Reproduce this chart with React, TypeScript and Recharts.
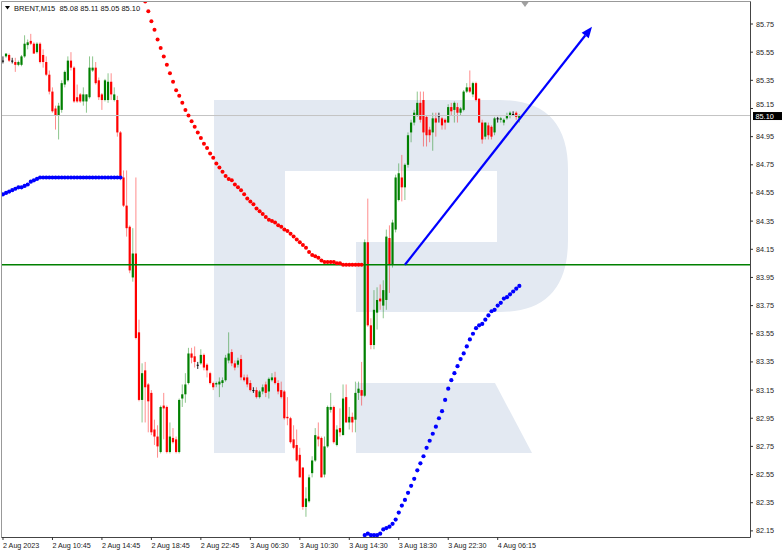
import React from 'react';
import { ComposedChart, Bar, Line, XAxis, YAxis, ReferenceLine } from 'recharts';

const symbolTitle = 'BRENT,M15';
const lastQuote = [85.08, 85.11, 85.05, 85.1];

// M15 candles, oldest first
const opens = [
  85.49, 85.52, 85.53, 85.49, 85.48, 85.46, 85.46, 85.52, 85.6, 85.63, 85.61, 85.55, 85.61, 85.53, 85.48, 85.39,
  85.27, 85.15, 85.1, 85.14, 85.32, 85.35, 85.49, 85.44, 85.23, 85.25, 85.2, 85.2, 85.23, 85.42, 85.44, 85.35,
  85.25, 85.21, 85.21, 85.34, 85.21, 85.21, 84.98, 84.66, 84.46, 84.31, 83.95, 84.12, 83.56, 83.08, 83.29, 83.19,
  83.13, 82.87, 82.82, 82.71, 83.04, 83.03, 82.71, 82.81, 82.8, 82.71, 83.09, 83.12, 83.2, 83.41, 83.39, 83.33,
  83.34, 83.4, 83.33, 83.27, 83.2, 83.19, 83.19, 83.2, 83.22, 83.36, 83.42, 83.34, 83.33, 83.37, 83.24, 83.24,
  83.2, 83.15, 83.15, 83.1, 83.14, 83.19, 83.14, 83.22, 83.24, 83.2, 83.15, 83.14, 82.96, 82.95, 82.8, 82.76,
  82.69, 82.6, 82.32, 82.36, 82.56, 82.65, 82.82, 82.81, 82.55, 82.75, 83.01, 83.03, 82.76, 82.88, 82.83, 83.1,
  82.92, 82.96, 82.94, 83.13, 83.15, 83.11, 84.2, 83.61, 83.47, 83.7, 83.8, 83.75, 83.79, 84.23, 84.04, 84.29,
  84.5, 84.66, 84.59, 84.75, 84.98, 85.05, 85.1, 85.19, 85.21, 85.09, 85.0, 84.98, 85.08, 85.1, 85.08, 85.07,
  85.05, 85.16, 85.14, 85.16, 85.12, 85.14, 85.27, 85.3, 85.25, 85.33, 85.22, 85.05, 84.95, 85.03, 85.02, 84.98,
  85.08, 85.07, 85.05, 85.08, 85.1, 85.11, 85.12, 85.08,
];
const highs = [
  85.52, 85.54, 85.54, 85.51, 85.51, 85.49, 85.53, 85.67, 85.64, 85.68, 85.62, 85.62, 85.62, 85.57, 85.52, 85.42,
  85.3, 85.17, 85.19, 85.35, 85.42, 85.52, 85.55, 85.45, 85.32, 85.26, 85.3, 85.25, 85.52, 85.52, 85.48, 85.37,
  85.26, 85.36, 85.4, 85.4, 85.3, 85.24, 84.99, 84.71, 84.71, 84.32, 84.3, 84.66, 83.65, 83.34, 83.35, 83.2,
  83.15, 82.94, 82.9, 83.04, 83.13, 83.04, 82.92, 82.88, 82.82, 83.09, 83.19, 83.27, 83.45, 83.45, 83.46, 83.35,
  83.44, 83.41, 83.34, 83.28, 83.21, 83.21, 83.24, 83.24, 83.4, 83.56, 83.44, 83.36, 83.38, 83.4, 83.26, 83.26,
  83.22, 83.17, 83.17, 83.15, 83.19, 83.21, 83.24, 83.27, 83.28, 83.22, 83.21, 83.15, 83.1, 82.96, 82.9, 82.87,
  82.74, 82.6, 82.46, 82.55, 82.68, 82.88, 82.92, 82.82, 82.82, 83.04, 83.13, 83.04, 82.9, 83.02, 83.19, 83.19,
  83.03, 82.99, 83.21, 83.21, 83.35, 84.22, 84.51, 83.66, 83.86, 83.88, 83.9, 83.93, 84.29, 84.32, 84.36, 84.68,
  84.76, 84.82, 84.76, 84.98, 85.07, 85.14, 85.27, 85.27, 85.27, 85.1, 85.02, 85.12, 85.12, 85.12, 85.09, 85.08,
  85.18, 85.19, 85.2, 85.19, 85.16, 85.28, 85.33, 85.42, 85.34, 85.34, 85.22, 85.07, 85.05, 85.05, 85.03, 85.09,
  85.09, 85.09, 85.08, 85.12, 85.13, 85.13, 85.13, 85.11,
];
const lows = [
  85.47, 85.51, 85.48, 85.47, 85.41, 85.45, 85.45, 85.51, 85.57, 85.6, 85.54, 85.54, 85.47, 85.44, 85.38, 85.25,
  85.12, 85.0, 84.93, 85.12, 85.3, 85.34, 85.42, 85.19, 85.19, 85.19, 85.17, 85.12, 85.22, 85.41, 85.32, 85.21,
  85.14, 85.2, 85.19, 85.21, 85.2, 84.95, 84.64, 84.45, 84.24, 83.98, 83.92, 83.51, 83.07, 82.92, 82.92, 82.85,
  82.83, 82.76, 82.67, 82.7, 82.8, 82.7, 82.7, 82.77, 82.7, 82.7, 83.03, 83.06, 83.19, 83.34, 83.31, 83.3,
  83.33, 83.29, 83.24, 83.19, 83.15, 83.17, 83.1, 83.17, 83.21, 83.34, 83.32, 83.29, 83.31, 83.22, 83.21, 83.17,
  83.14, 83.13, 83.09, 83.09, 83.12, 83.1, 83.09, 83.21, 83.19, 83.12, 83.09, 82.94, 82.9, 82.77, 82.73, 82.64,
  82.53, 82.3, 82.25, 82.35, 82.53, 82.64, 82.75, 82.53, 82.53, 82.74, 82.99, 82.77, 82.75, 82.82, 82.83, 82.92,
  82.87, 82.85, 82.85, 83.08, 83.04, 83.1, 83.6, 83.44, 83.44, 83.58, 83.72, 83.66, 83.72, 83.84, 84.02, 84.27,
  84.49, 84.49, 84.5, 84.73, 84.91, 85.03, 85.09, 85.05, 84.88, 84.88, 84.91, 84.85, 84.95, 85.05, 85.0, 85.0,
  85.05, 85.1, 85.05, 85.05, 85.1, 85.13, 85.26, 85.26, 85.23, 85.2, 85.05, 84.9, 84.93, 84.93, 84.93, 84.96,
  85.05, 85.05, 85.03, 85.07, 85.08, 85.1, 85.07, 85.05,
];
const closes = [
  85.49, 85.54, 85.49, 85.49, 85.46, 85.48, 85.52, 85.61, 85.62, 85.61, 85.54, 85.61, 85.48, 85.48, 85.39, 85.27,
  85.13, 85.1, 85.17, 85.33, 85.41, 85.49, 85.44, 85.2, 85.2, 85.2, 85.25, 85.25, 85.44, 85.44, 85.33, 85.23,
  85.21, 85.35, 85.34, 85.25, 85.25, 84.98, 84.66, 84.46, 84.3, 84.0, 84.12, 83.52, 83.08, 83.27, 83.17, 83.07,
  82.85, 82.82, 82.75, 83.03, 83.02, 82.71, 82.82, 82.78, 82.71, 83.08, 83.12, 83.19, 83.41, 83.38, 83.35, 83.33,
  83.4, 83.31, 83.29, 83.2, 83.17, 83.2, 83.21, 83.22, 83.38, 83.41, 83.34, 83.31, 83.36, 83.24, 83.22, 83.19,
  83.15, 83.15, 83.1, 83.14, 83.17, 83.13, 83.23, 83.24, 83.2, 83.14, 83.1, 82.95, 82.95, 82.78, 82.74, 82.65,
  82.53, 82.32, 82.38, 82.53, 82.65, 82.83, 82.8, 82.53, 82.75, 83.03, 83.03, 82.78, 82.87, 82.85, 83.09, 82.92,
  82.96, 82.92, 83.13, 83.16, 83.11, 84.2, 83.61, 83.47, 83.72, 83.79, 83.78, 83.86, 84.24, 84.04, 84.34, 84.66,
  84.69, 84.59, 84.75, 84.96, 85.05, 85.12, 85.19, 85.07, 84.98, 84.96, 84.96, 85.08, 85.05, 85.1, 85.03, 85.05,
  85.16, 85.13, 85.19, 85.12, 85.15, 85.27, 85.3, 85.27, 85.33, 85.21, 85.05, 84.93, 85.05, 84.96, 84.95, 85.08,
  85.08, 85.08, 85.07, 85.1, 85.12, 85.11, 85.09, 85.1,
];

// dotted indicator values, each list starts at its own bar index
const redDotsStart = 46;
const redDots = [
  85.91, 85.84, 85.77, 85.71, 85.64, 85.58, 85.52, 85.46, 85.4, 85.34, 85.28, 85.24, 85.19, 85.14, 85.1, 85.06,
  85.02, 84.98, 84.94, 84.9, 84.87, 84.83, 84.8, 84.76, 84.73, 84.7, 84.67, 84.65, 84.64, 84.61, 84.59, 84.57,
  84.54, 84.51, 84.49, 84.47, 84.44, 84.42, 84.4, 84.38, 84.36, 84.35, 84.34, 84.32, 84.31, 84.29, 84.28, 84.26,
  84.24, 84.22, 84.2, 84.18, 84.16, 84.13, 84.11, 84.1, 84.09, 84.07, 84.06, 84.06, 84.06, 84.06, 84.05, 84.05,
  84.04, 84.04, 84.04, 84.04, 84.04, 84.04, 84.04,
];
const blueTopStart = 0;
const blueTop = [
  84.54, 84.55, 84.56, 84.57, 84.58, 84.59, 84.59, 84.6, 84.61, 84.63, 84.64, 84.65, 84.66, 84.66, 84.66, 84.66,
  84.66, 84.66, 84.66, 84.66, 84.66, 84.66, 84.66, 84.66, 84.66, 84.66, 84.66, 84.66, 84.66, 84.66, 84.66, 84.66,
  84.66, 84.66, 84.66, 84.66, 84.66, 84.66, 84.66,
];
const blueBottomStart = 117;
const blueBottom = [
  82.12, 82.13, 82.12, 82.12, 82.12, 82.13, 82.16, 82.17, 82.18, 82.2, 82.23, 82.28, 82.33, 82.37, 82.42, 82.47,
  82.52, 82.58, 82.63, 82.68, 82.74, 82.79, 82.84, 82.89, 82.95, 83.0, 83.08, 83.16, 83.22, 83.27, 83.32, 83.37,
  83.41, 83.46, 83.51, 83.55, 83.59, 83.61, 83.62, 83.65, 83.68, 83.71, 83.72, 83.75, 83.77, 83.8, 83.81, 83.83,
  83.85, 83.87, 83.89,
];

const xTickIndex = [0, 16, 32, 48, 64, 80, 96, 112, 128, 144, 160];
const xTickLabels = [
  '2 Aug 2023', '2 Aug 10:45', '2 Aug 14:45', '2 Aug 18:45', '2 Aug 22:45', '3 Aug 06:30',
  '3 Aug 10:30', '3 Aug 14:30', '3 Aug 18:30', '3 Aug 22:30', '4 Aug 06:15',
];
const yTicks = [
  82.15, 82.35, 82.55, 82.75, 82.95, 83.15, 83.35, 83.55, 83.75, 83.95, 84.15, 84.35, 84.55, 84.75, 84.95,
  85.15, 85.35, 85.55, 85.75,
];

const supportLevel = 84.04;
const bidLevel = 85.1;
const arrowFrom = { x: 130, y: 84.04 };
const arrowTo = { x: 190.5, y: 85.73 };

const FONT = '"Liberation Sans", Arial, sans-serif';

const rows = opens.map((o, i) => ({
  i,
  open: o,
  high: highs[i],
  low: lows[i],
  close: closes[i],
  red: i >= redDotsStart && i < redDotsStart + redDots.length ? redDots[i - redDotsStart] : null,
  blue:
    i >= blueTopStart && i < blueTopStart + blueTop.length
      ? blueTop[i - blueTopStart]
      : i >= blueBottomStart && i < blueBottomStart + blueBottom.length
      ? blueBottom[i - blueBottomStart]
      : null,
}));

function Candle(props: any) {
  const { x, y, width, height, payload } = props;
  if (!payload || x == null || y == null) return null;
  const { open, close, high, low } = payload;
  const top = Math.min(y, y + height);
  const h = Math.abs(height);
  const k = high > low ? h / (high - low) : 0;
  const py = (p: number) => top + (high - p) * k;
  const cx = x + width / 2;
  const doji = open === close;
  const col = doji ? '#000000' : close > open ? '#008000' : '#ff0000';
  const bTop = py(Math.max(open, close));
  const bH = Math.max(1, py(Math.min(open, close)) - bTop);
  return (
    <g>
      <line x1={cx} x2={cx} y1={top} y2={top + h} stroke={col} strokeOpacity={doji ? 0.85 : 0.45} strokeWidth={1} />
      <rect x={cx - 1.1} y={bTop} width={2.2} height={bH} fill={col} />
    </g>
  );
}

function XTick(props: any) {
  const { x, y, payload } = props;
  const idx = xTickIndex.indexOf(payload.value);
  return (
    <g>
      <line x1={x} x2={x} y1={y} y2={y + 3} stroke="#333" />
      <text x={x} y={y + 11} fontSize={7.2} fill="#222" fontFamily={FONT} textAnchor="start">
        {idx >= 0 ? xTickLabels[idx] : ''}
      </text>
    </g>
  );
}

// price labels on the right; the one just above the bid tag is squeezed up a little
function YTick(props: any) {
  const { x, y, payload } = props;
  const v = payload.value as number;
  const near = v > bidLevel && v - bidLevel < 0.08;
  return (
    <text x={x} y={y + (near ? -1.5 : 2.5)} fontSize={7.2} fill="#222" fontFamily={FONT} textAnchor="start">
      {v.toFixed(2)}
    </text>
  );
}

function PriceTag(props: any) {
  const vb = props.viewBox || {};
  const yy = vb.y ?? 0;
  const xx = (vb.x ?? 0) + (vb.width ?? 0);
  return (
    <g>
      <rect x={xx + 3} y={yy - 3.5} width={30} height={8} fill="#000" />
      <text x={xx + 5.5} y={yy + 3} fontSize={7.3} fill="#fff" fontFamily={FONT}>
        {bidLevel.toFixed(2)}
      </text>
    </g>
  );
}

function Arrow(props: any) {
  const { x1, y1, x2, y2 } = props;
  if ([x1, y1, x2, y2].some((v) => v == null || isNaN(v))) return null;
  const a = Math.atan2(y2 - y1, x2 - x1);
  const L = 11;
  const W = 4.5;
  const bx = x2 - L * Math.cos(a);
  const by = y2 - L * Math.sin(a);
  const nx = -Math.sin(a);
  const ny = Math.cos(a);
  return (
    <g>
      <line x1={x1} y1={y1} x2={bx} y2={by} stroke="#0000ff" strokeWidth={2.2} />
      <polygon
        points={`${x2},${y2} ${bx + W * nx},${by + W * ny} ${bx - W * nx},${by - W * ny}`}
        fill="#0000ff"
      />
    </g>
  );
}

function Watermark() {
  const c = '#e3e9f2';
  return (
    <svg width={782} height={555} style={{ position: 'absolute', left: 0, top: 0 }}>
      <path
        d="M214 100 H500 Q568 100 568 170 V240 Q568 312 500 312 H356 V242 H497 V171 H285 V453 H214 Z"
        fill={c}
      />
      <path d="M356 383 H495 L532 453 H356 Z" fill={c} />
      <line x1={1.5} y1={1.5} x2={750.5} y2={1.5} stroke="#999" />
      <line x1={1.5} y1={1.5} x2={1.5} y2={537.5} stroke="#999" />
      <line x1={750.5} y1={1.5} x2={750.5} y2={537.5} stroke="#444" />
      <line x1={1.5} y1={537.5} x2={750.5} y2={537.5} stroke="#444" />
    </svg>
  );
}

export default function App() {
  return (
    <div style={{ position: 'absolute', left: 0, top: 0, width: 782, height: 555, background: '#fff', overflow: 'hidden' }}>
      <Watermark />
      <div style={{ position: 'absolute', left: 0, top: 0 }}>
        <ComposedChart width={782} height={555} data={rows} margin={{ top: 2, right: 0, bottom: 0, left: 2 }}>
          <XAxis
            dataKey="i"
            type="number"
            domain={[-0.32, 241.6]}
            allowDataOverflow
            ticks={xTickIndex}
            interval={0}
            height={18}
            axisLine={false}
            tickLine={false}
            tickSize={0}
            tickMargin={0}
            tick={(p: any) => <XTick {...p} />}
          />
          <YAxis
            orientation="right"
            type="number"
            domain={[82.1065, 85.9063]}
            allowDataOverflow
            ticks={yTicks}
            interval={0}
            width={32}
            axisLine={false}
            tickSize={3}
            tickMargin={3}
            tickLine={{ stroke: '#333' }}
            tick={(p: any) => <YTick {...p} />}
          />
          <ReferenceLine y={supportLevel} stroke="#008000" strokeWidth={1.5} />
          <ReferenceLine y={bidLevel} stroke="#c4c4c4" strokeWidth={1} label={PriceTag} />
          <Bar dataKey={(d: any) => [d.low, d.high]} barSize={3} shape={<Candle />} isAnimationActive={false} />
          <Line
            dataKey="red"
            stroke="none"
            dot={{ r: 2, fill: '#ff0000', stroke: 'none' }}
            activeDot={false}
            isAnimationActive={false}
          />
          <Line
            dataKey="blue"
            stroke="none"
            dot={{ r: 2.1, fill: '#0000ff', stroke: 'none' }}
            activeDot={false}
            isAnimationActive={false}
          />
          <ReferenceLine
            segment={[arrowFrom, arrowTo]}
            ifOverflow="visible"
            stroke="#0000ff"
            shape={(p: any) => <Arrow {...p} />}
          />
        </ComposedChart>
      </div>
      <svg width={782} height={20} style={{ position: 'absolute', left: 0, top: 0, pointerEvents: 'none' }}>
        <polygon points="5,6 10,6 7.5,9.5" fill="#000" />
        <text x={14} y={11} fontSize={7.5} fill="#111" fontFamily={FONT} xmlSpace="preserve">
          {`${symbolTitle}  ${lastQuote.map((v) => v.toFixed(2)).join(' ')}`}
        </text>
        <polygon points="521,1.5 529,1.5 525,7" fill="#a0a0a0" />
      </svg>
    </div>
  );
}
